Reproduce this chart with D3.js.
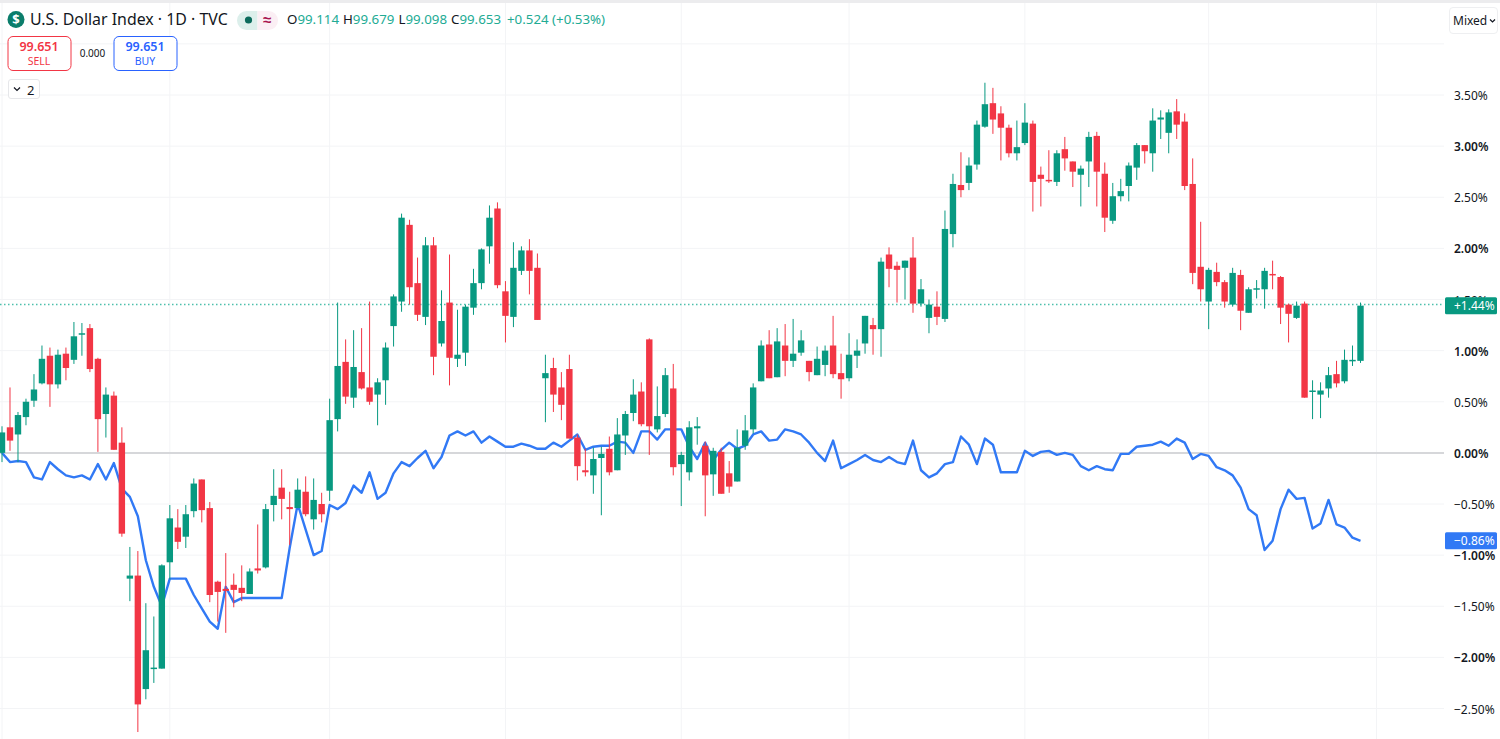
<!DOCTYPE html>
<html>
<head>
<meta charset="utf-8">
<script src="https://cdn.jsdelivr.net/npm/d3@7"></script>
<style>
  html, body { margin: 0; padding: 0; background: #fff; overflow: hidden; }
  text { font-family: "Noto Sans", sans-serif; }
</style>
</head>
<body>
<svg id="chart"></svg>
<script>
// all series are % change from the first bar
const opens = [
  0.00,0.25,0.18,0.35,0.51,0.68,0.95,0.67,0.97,0.91,
  1.16,1.22,0.92,0.38,0.56,0.10,-1.23,-1.20,-2.31,-2.11,
  -2.11,-1.07,-0.73,-0.82,-0.57,-0.26,-0.54,-1.26,-1.33,-1.29,
  -1.32,-1.38,-1.13,-1.12,-0.51,-0.34,-0.53,-0.54,-0.38,-0.65,
  -0.50,-0.37,0.33,0.89,0.54,0.79,0.64,0.57,0.71,1.24,
  1.48,2.23,1.66,1.33,2.03,1.07,1.47,0.92,0.98,1.42,
  1.66,2.02,2.39,1.58,1.33,1.78,1.98,1.81,0.73,0.83,
  0.64,0.82,0.15,-0.17,-0.22,-0.05,0.04,-0.17,0.17,0.39,
  0.60,1.11,0.23,0.38,0.63,-0.11,-0.19,0.24,0.07,-0.21,
  0.01,-0.20,-0.28,0.07,0.23,0.70,1.06,0.74,1.05,0.90,
  0.98,0.90,0.76,0.86,1.05,0.78,0.73,0.95,1.07,1.25,
  1.21,1.94,1.83,1.81,1.91,1.46,1.32,1.43,1.31,2.14,
  2.62,2.64,2.82,3.19,3.42,3.32,3.18,2.93,3.03,3.22,
  2.72,2.67,2.65,2.97,2.85,2.72,2.85,3.10,2.73,2.27,
  2.51,2.61,2.79,3.01,2.93,3.26,3.13,3.34,3.24,2.63,
  1.82,1.48,1.77,1.67,1.45,1.74,1.37,1.60,1.60,1.75,
  1.72,1.45,1.32,1.46,0.60,0.57,0.63,0.77,0.70,0.90,0.90
];
const closes = [
  0.20,0.12,0.37,0.50,0.62,0.92,0.67,0.96,0.83,1.14,
  1.17,0.82,0.33,0.57,0.03,-0.79,-1.20,-2.46,-1.93,-2.10,
  -1.10,-0.64,-0.87,-0.60,-0.30,-0.56,-1.39,-1.36,-1.35,-1.34,
  -1.37,-1.16,-1.15,-0.55,-0.42,-0.45,-0.55,-0.36,-0.60,-0.46,
  -0.60,0.32,0.85,0.55,0.84,0.63,0.50,0.69,1.03,1.53,
  2.30,1.62,1.35,2.03,0.94,1.29,0.93,0.96,1.43,1.66,
  1.99,2.30,1.64,1.34,1.81,1.98,1.78,1.30,0.78,0.57,
  0.47,0.14,-0.13,-0.19,-0.06,-0.01,-0.19,0.18,0.38,0.57,
  0.28,0.26,0.36,0.76,-0.14,-0.02,0.25,0.26,-0.22,0.02,
  -0.40,-0.33,0.05,0.22,0.64,1.05,0.73,1.09,0.90,0.97,
  1.10,0.79,0.92,1.00,0.77,0.72,0.96,1.00,1.34,1.21,
  1.87,1.80,1.79,1.88,1.46,1.60,1.45,1.33,2.19,2.63,
  2.57,2.81,3.21,3.41,3.26,3.18,2.93,2.99,3.23,2.65,
  2.68,2.66,2.93,2.88,2.75,2.78,3.09,2.75,2.30,2.51,
  2.56,2.81,3.01,2.95,3.25,3.28,3.33,3.21,2.61,1.76,
  1.60,1.79,1.67,1.48,1.76,1.39,1.60,1.61,1.78,1.74,
  1.42,1.36,1.44,0.54,0.61,0.61,0.76,0.68,0.91,0.91,1.44
];
const highs = [
  0.26,0.64,0.40,0.53,0.77,1.05,1.03,1.01,1.03,1.28,
  1.27,1.26,0.93,0.64,0.60,0.25,-0.92,-0.96,-1.47,-1.60,
  -1.09,-0.51,-0.55,-0.51,-0.25,-0.26,-0.48,-1.25,-0.98,-1.18,
  -1.10,-1.13,-0.70,-0.50,-0.16,-0.16,-0.38,-0.25,-0.23,-0.25,
  -0.39,0.53,1.47,1.11,1.20,1.22,1.48,0.73,1.08,1.55,
  2.34,2.28,1.91,2.11,2.11,1.59,1.94,1.40,1.45,1.80,
  2.00,2.42,2.45,1.68,2.06,2.02,2.09,1.95,0.96,0.93,
  0.79,0.96,0.18,0.04,0.05,0.06,0.16,0.34,0.41,0.72,
  0.69,1.12,0.65,0.83,0.87,0.01,0.31,0.35,0.11,0.05,
  0.05,-0.08,0.23,0.37,0.68,1.10,1.20,1.22,1.26,1.31,
  1.20,0.90,1.04,1.05,1.34,0.97,1.17,1.11,1.34,1.32,
  1.91,2.01,1.87,1.88,2.11,1.70,1.50,1.58,2.37,2.73,
  2.94,2.89,3.25,3.62,3.57,3.39,3.21,3.25,3.42,3.25,
  2.80,2.96,2.96,3.09,2.85,2.81,3.14,3.14,2.84,2.64,
  2.68,2.84,3.03,3.01,3.37,3.35,3.36,3.46,3.32,2.88,
  2.26,1.81,1.86,1.69,1.81,1.79,1.62,1.69,1.81,1.88,
  1.73,1.46,1.48,1.48,0.71,0.69,0.84,0.90,1.01,1.05,1.47
];
const lows = [
  -0.09,0.02,-0.09,0.27,0.45,0.67,0.45,0.63,0.71,0.87,
  0.95,0.79,0.01,0.15,0.03,-0.82,-1.45,-2.73,-2.41,-2.25,
  -2.11,-1.24,-0.94,-0.93,-0.63,-0.68,-1.46,-1.65,-1.76,-1.51,
  -1.45,-1.38,-1.18,-1.13,-0.67,-0.65,-0.90,-0.54,-0.62,-0.75,
  -0.68,-0.47,0.21,0.48,0.44,0.62,0.47,0.27,0.47,1.04,
  1.38,1.45,1.29,1.25,0.76,1.04,0.66,0.84,0.85,1.35,
  1.60,1.85,1.61,1.08,1.23,1.74,1.55,1.30,0.30,0.40,
  0.32,0.14,-0.27,-0.23,-0.40,-0.61,-0.22,-0.17,-0.02,0.31,
  0.26,-0.02,0.20,0.35,-0.22,-0.52,-0.27,0.08,-0.62,-0.42,
  -0.40,-0.39,-0.28,0.03,0.19,0.70,0.73,0.74,0.75,0.84,
  0.95,0.70,0.76,0.75,0.73,0.53,0.70,0.83,0.97,0.96,
  0.94,1.62,1.47,1.50,1.37,1.43,1.17,1.25,1.28,2.01,
  2.50,2.57,2.77,3.18,3.12,2.86,2.89,2.86,3.01,2.36,
  2.41,2.64,2.61,2.76,2.60,2.41,2.60,2.41,2.16,2.24,
  2.46,2.46,2.67,2.83,2.75,3.07,2.93,3.07,2.57,1.65,
  1.48,1.21,1.63,1.42,1.43,1.20,1.37,1.51,1.41,1.60,
  1.26,1.08,1.31,0.54,0.33,0.34,0.54,0.64,0.68,0.85,0.88
];
// comparison symbol, blue line
const compare = [
  0.00,-0.09,-0.08,-0.09,-0.24,-0.26,-0.09,-0.16,-0.22,-0.24,
  -0.22,-0.26,-0.11,-0.26,-0.10,-0.35,-0.43,-0.62,-1.05,-1.31,
  -1.50,-1.23,-1.23,-1.23,-1.39,-1.52,-1.65,-1.72,-1.31,-1.46,
  -1.42,-1.42,-1.42,-1.42,-1.42,-1.42,-0.93,-0.50,-0.75,-1.00,
  -0.96,-0.51,-0.55,-0.49,-0.32,-0.39,-0.19,-0.45,-0.39,-0.20,
  -0.09,-0.13,-0.05,0.02,-0.15,-0.04,0.17,0.21,0.17,0.21,
  0.10,0.16,0.11,0.06,0.06,0.09,0.07,0.04,0.04,0.10,
  0.06,0.12,0.18,0.03,0.06,0.07,0.07,0.11,0.10,0.00,
  0.21,0.21,0.13,0.23,0.23,0.23,0.06,-0.06,0.10,-0.07,
  0.03,0.10,0.04,0.07,0.18,0.21,0.12,0.13,0.23,0.21,
  0.18,0.10,0.00,-0.08,0.12,-0.15,-0.11,-0.07,-0.02,-0.07,
  -0.09,-0.04,-0.09,-0.11,0.12,-0.17,-0.24,-0.20,-0.11,-0.09,
  0.16,0.08,-0.11,0.14,0.08,-0.19,-0.19,-0.19,0.02,-0.03,
  0.01,0.02,-0.02,0.00,-0.02,-0.13,-0.17,-0.13,-0.16,-0.17,
  -0.01,-0.01,0.06,0.07,0.08,0.11,0.07,0.14,0.10,-0.06,
  -0.01,-0.03,-0.14,-0.17,-0.22,-0.34,-0.55,-0.61,-0.95,-0.86,
  -0.55,-0.36,-0.45,-0.44,-0.74,-0.69,-0.46,-0.70,-0.73,-0.83,-0.86
];

const yTicks = [-2.5,-2,-1.5,-1,-0.5,0,0.5,1,1.5,2,2.5,3,3.5];
const yGrid = [-2.5,-2,-1.5,-1,-0.5,0.5,1,1.5,2,2.5,3,3.5,4];
const monthBars = [0,21,41,63,85,106,128,151,172]; // bars where the vertical grid sits
const lastPct = 1.44, lastComparePct = -0.86;

const title = "U.S. Dollar Index · 1D · TVC";
const ohlcLabels = [["O","99.114"],["H","99.679"],["L","99.098"],["C","99.653"]];
const changeLabel = "+0.524 (+0.53%)";

const width = 1500, height = 739, plotRight = 1444;
const green = "#089981", red = "#f23645", blue = "#3179f5", ink = "#131722";

const svg = d3.select("#chart").attr("width", width).attr("height", height)
    .style("display", "block");

const x = d3.scaleLinear().domain([0, 170]).range([2, 1360.5]);
const y = d3.scaleLinear().domain([-2.5, 3.5]).range([708.5, 95]);

const fmt = v => (v < 0 ? "\u2212" : "") + Math.abs(v).toFixed(2) + "%";

// top strip
svg.append("rect").attr("width", width).attr("height", 3).attr("fill", "#ececee");

// grid
svg.append("g").selectAll("line").data(yGrid).join("line")
    .attr("x1", 0).attr("x2", plotRight)
    .attr("y1", d => y(d)).attr("y2", d => y(d))
    .attr("stroke", "#f3f4f6").attr("stroke-width", 1);
svg.append("g").selectAll("line").data(monthBars).join("line")
    .attr("x1", d => x(d)).attr("x2", d => x(d))
    .attr("y1", 3).attr("y2", height)
    .attr("stroke", "#f3f4f6").attr("stroke-width", 1);

// zero line
svg.append("line")
    .attr("x1", 0).attr("x2", plotRight)
    .attr("y1", y(0)).attr("y2", y(0))
    .attr("stroke", "#d6d7da").attr("stroke-width", 2);

// last price line, snapped so the dots stay sharp
const lastY = Math.floor(y(lastPct)) - 0.5;
svg.append("line")
    .attr("x1", 0).attr("x2", plotRight)
    .attr("y1", lastY).attr("y2", lastY)
    .attr("stroke", "#4dbfab").attr("stroke-width", 1.5)
    .attr("stroke-dasharray", "1.5 2.5");

// comparison line sits under the candles
svg.append("path")
    .datum(compare)
    .attr("fill", "none")
    .attr("stroke", blue)
    .attr("stroke-width", 2.4)
    .attr("stroke-linejoin", "round")
    .attr("d", d3.line().x((d, i) => x(i)).y(d => y(d)));

// candles
const bars = opens.map((o, i) => ({ i, o, h: highs[i], l: lows[i], c: closes[i] }));
const candle = svg.append("g").selectAll("g").data(bars).join("g")
    .attr("fill", d => d.c >= d.o ? green : red);
candle.append("rect")
    .attr("x", d => x(d.i) - 0.5)
    .attr("width", 1)
    .attr("y", d => y(d.h))
    .attr("height", d => y(d.l) - y(d.h));
candle.append("rect")
    .attr("x", d => x(d.i) - 3.2)
    .attr("width", 6.4)
    .attr("y", d => y(Math.max(d.o, d.c)))
    .attr("height", d => Math.max(1.5, Math.abs(y(d.o) - y(d.c))));

// right axis
const axis = svg.append("g")
    .attr("transform", `translate(${plotRight},0.7)`)
    .call(d3.axisRight(y).tickValues(yTicks).tickSize(0).tickPadding(10).tickFormat(fmt));
axis.select(".domain").remove();
axis.selectAll("text")
    .style("font-size", "12px")
    .style("font-family", '"Noto Sans", sans-serif')
    .attr("fill", ink)
    .style("font-weight", d => Number.isInteger(d) ? 600 : 400);

// price tags on the axis
const tags = [[lastPct, green, "+1.44%"], [lastComparePct, blue, "\u22120.86%"]];
const tag = svg.append("g").selectAll("g").data(tags).join("g")
    .attr("transform", d => `translate(1445,${y(d[0])})`);
tag.append("rect")
    .attr("y", -8.5).attr("width", 52).attr("height", 17).attr("rx", 1.5)
    .attr("fill", d => d[1]);
tag.append("text")
    .attr("x", 9).attr("y", 4.2)
    .attr("fill", "#fff").attr("font-size", 12)
    .text(d => d[2]);

// legend
svg.append("circle").attr("cx", 16).attr("cy", 19.5).attr("r", 8.5).attr("fill", "#0b7d6b");
svg.append("text").attr("x", 16).attr("y", 24).attr("text-anchor", "middle")
    .attr("fill", "#fff").attr("font-size", 13).attr("font-weight", 700).text("$");
svg.append("text").attr("x", 30).attr("y", 25)
    .attr("fill", ink).attr("font-size", 15.9).text(title);

svg.append("path").attr("d", "M257.5 11h-11a9.5 9.5 0 0 0 0 19h11z").attr("fill", "#dcefeb");
svg.append("path").attr("d", "M257.5 11h11a9.5 9.5 0 0 1 0 19h-11z").attr("fill", "#fbeff4");
svg.append("circle").attr("cx", 248.5).attr("cy", 20).attr("r", 3.6).attr("fill", "#0b6b5c");
svg.append("text").attr("x", 267).attr("y", 24.5).attr("text-anchor", "middle")
    .attr("fill", "#a8124f").attr("font-size", 15).attr("font-weight", 700).text("\u2248");

const ohlc = svg.append("text").attr("x", 283).attr("y", 24).attr("font-size", 13.3);
ohlcLabels.forEach(([k, v]) => {
  ohlc.append("tspan").attr("fill", ink).attr("dx", 4).text(k);
  ohlc.append("tspan").attr("fill", "#22ab94").text(v);
});
ohlc.append("tspan").attr("fill", "#22ab94").attr("dx", 6).text(changeLabel);

// sell / buy
const trade = [
  { x0: 8, c: red, price: "99.651", side: "SELL" },
  { x0: 114, c: "#2962ff", price: "99.651", side: "BUY" }
];
const btn = svg.append("g").selectAll("g").data(trade).join("g")
    .attr("transform", d => `translate(${d.x0},36.5)`);
btn.append("rect").attr("width", 63).attr("height", 34).attr("rx", 5)
    .attr("fill", "#fff").attr("stroke", d => d.c);
btn.append("text").attr("x", 31).attr("y", 14).attr("text-anchor", "middle")
    .attr("fill", d => d.c).attr("font-size", 12.5).attr("font-weight", 600)
    .text(d => d.price);
btn.append("text").attr("x", 31).attr("y", 28).attr("text-anchor", "middle")
    .attr("fill", d => d.c).attr("font-size", 10.5).text(d => d.side);
svg.append("text").attr("x", 92.5).attr("y", 57).attr("text-anchor", "middle")
    .attr("fill", ink).attr("font-size", 10).text("0.000");

// collapse button
svg.append("rect").attr("x", 8.5).attr("y", 79.5).attr("width", 31).attr("height", 19).attr("rx", 2.5)
    .attr("fill", "#fff").attr("stroke", "#e6e7ea");
svg.append("path").attr("d", "M14 87.5l3 3 3-3").attr("fill", "none").attr("stroke", ink).attr("stroke-width", 1.2);
svg.append("text").attr("x", 27).attr("y", 94.5).attr("fill", ink).attr("font-size", 13).text("2");

// scale mode button
svg.append("rect").attr("x", 1449.5).attr("y", 7.5).attr("width", 48).attr("height", 26).attr("rx", 3.5)
    .attr("fill", "#fff").attr("stroke", "#eeeff1");
svg.append("text").attr("x", 1453).attr("y", 25).attr("fill", ink).attr("font-size", 12).text("Mixed");
svg.append("path").attr("d", "M1490 19.5l2.5 2.5 2.5-2.5").attr("fill", "none").attr("stroke", ink).attr("stroke-width", 1.2);
</script>
</body>
</html>
